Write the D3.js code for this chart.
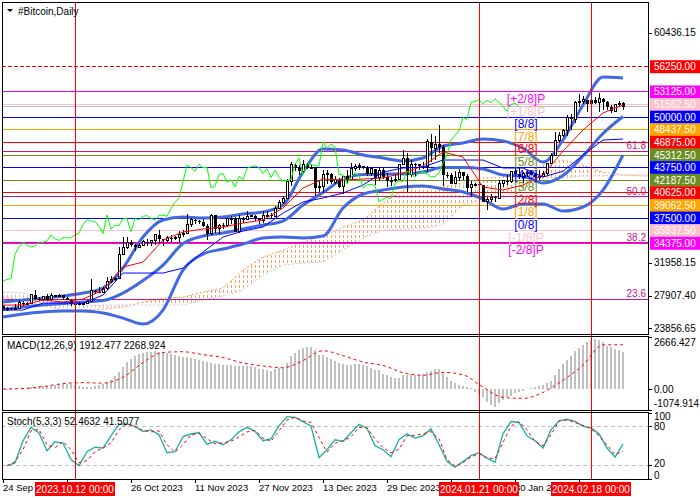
<!doctype html>
<html lang="en">
<head>
<meta charset="utf-8">
<title>#Bitcoin, Daily</title>
<script src="https://cdn.jsdelivr.net/npm/d3@7"></script>
<style>
  body { margin: 0; background: #fff; }
  svg { display: block; font-family: "Liberation Sans", Arial, sans-serif; }
</style>
</head>
<body>
<div id="chart"></div>
<script>
// ---- data (daily bars from 24 Sep 2023) ----
const firstDay = new Date(2023, 8, 24);

const open = [26580,26260,26300,26210,26350,27020,26910,
  26970,27980,27500,27430,27790,27410,27930,27950,27970,27600,27390,26870,26750,26860,26860,27150,28500,28400,28330,28720,29680,29920,30000,33000,33900,34500,34150,33900,34090,34540,34500,
  34660,35420,34940,34730,35080,35050,35050,35420,35620,36700,37310,37130,37070,36480,35550,37870,36150,36600,36590,37390,37480,35810,37420,37290,37720,37800,37480,37250,37830,37860,
  37720,38690,39470,39980,41980,44080,43750,43290,44170,43730,43790,41240,41450,42890,43020,41930,42240,41360,42660,42260,43650,43860,43990,43740,43020,43610,42520,43440,42580,42070,42140,
  42280,44180,44940,42850,44180,44160,43970,43930,46970,46120,46650,46340,42890,42850,41730,42510,43150,42740,41260,41620,41670,41550,39510,39850,40080,39930,41820,42120,42030,43300,42950,
  42580,43080,43190,42990,42580,42660,43080,44320,45300,47150,47770,48290,49960,49730,51830,51940,52160,51660,52120,51780,52280,51850,51320,50730,51570,51730];
const high = [26720,26430,26390,26820,27300,27230,27090,
  28050,28580,27670,27820,28120,28250,28030,28100,27990,27740,27480,26940,27100,26980,27290,30000,28610,28950,28920,30200,30290,30210,33900,35180,35100,34800,34240,34450,34730,34850,34720,
  35560,35980,34950,35250,35380,35280,35900,35980,37970,37520,37400,37220,37400,36750,37950,37920,36800,36830,37500,37750,37650,37850,37620,38400,37890,37830,37560,38370,38400,38150,
  38950,39680,40190,42400,44490,44280,44040,44700,44380,44040,43800,42100,43430,43400,43080,42700,42430,42750,43480,44280,44230,44380,44000,43950,43800,43620,43680,43800,43120,42600,42900,
  44180,45880,45500,44730,44350,44200,44480,47250,47900,47650,49000,46500,43250,43080,43340,43550,43200,42930,42150,41850,41870,41650,40130,40500,40280,42200,42200,42800,43310,43880,43740,
  43260,43420,43380,43120,43500,43350,44370,45580,48190,48170,48550,50220,50350,52020,52820,52570,52160,52350,52490,52980,52370,52030,51540,51680,51950,51850];
const low = [26210,25990,26090,26120,26340,26670,26890,
  26940,27330,27180,27220,27390,27180,27850,27710,27290,27300,26560,26560,26690,26810,26840,27120,28100,28180,28170,28610,29480,29680,29920,32870,33700,33880,33400,33880,34050,34100,34080,
  34120,34340,34100,34590,34560,34760,34520,35120,35560,36350,36760,36730,36360,34800,35360,35600,35500,36200,36400,36800,35730,35650,36930,37250,37600,37150,36750,36890,37600,37520,
  37620,38650,39280,39980,41420,43370,42820,43090,43600,43600,40250,40680,40620,41770,41700,41700,41250,40530,41820,42200,43300,43400,43600,42770,42730,41640,42120,42300,41300,41520,41960,
  42200,44150,40750,42630,42600,43400,43600,43200,44400,44700,45600,41500,42450,41720,41720,42050,42200,40680,40280,41450,41500,39440,38550,39480,39530,39830,41400,41630,41800,42700,42300,
  41880,42580,42900,42250,42270,42600,42800,44320,45250,46900,47560,47700,48370,49270,51320,51600,50650,51190,51570,50620,50830,50930,50540,50590,51280,50900];
const close = [26260,26300,26210,26350,27020,26910,26970,
  27980,27500,27430,27790,27410,27930,27950,27970,27600,27390,26870,26750,26860,26860,27150,28500,28400,28330,28720,29680,29920,30000,33000,33900,34500,34150,33900,34090,34540,34500,34660,
  35420,34940,34730,35080,35050,35050,35420,35620,36700,37310,37130,37070,36480,35550,37870,36150,36600,36590,37390,37480,35810,37420,37290,37720,37800,37480,37250,37830,37860,37720,
  38690,39470,39980,41980,44080,43750,43290,44170,43730,43790,41240,41450,42890,43020,41930,42240,41360,42660,42260,43650,43860,43990,43740,43020,43610,42520,43440,42580,42070,42140,42280,
  44180,44940,42850,44180,44160,43970,43930,46970,46120,46650,46340,42890,42850,41730,42510,43150,42740,41260,41620,41670,41550,39510,39850,40080,39930,41820,42120,42030,43300,42950,42580,
  43080,43190,42990,42580,42660,43080,44320,45300,47150,47770,48290,49960,49730,51830,51940,52160,51660,52120,51780,52280,51850,51320,50730,51570,51730,51300];

// indicator lines, one value every 5 bars (bar 0, 5, ... 155)
const bbUpper = [27100,27340,27590,27840,28210,28830,31310,35150,37260,37630,37500,37630,38000,38250,39110,43200,46050,45930,45310,44940,44570,44940,46430,46800,47290,47040,46180,44440,47170,51500,54970,54850];
const bbMiddle = [26170,26480,26720,26910,27100,27280,28210,29760,31680,34340,35270,35650,36140,36640,37130,39110,40660,42340,42890,42960,42960,43200,43760,43760,43580,42830,42710,41840,42770,45190,47970,50080];
const bbLower = [25240,25610,25860,25980,25980,25730,25110,24370,26110,31060,33040,33660,34280,35030,35150,35030,35270,38740,40480,40970,41350,41470,41100,40730,39860,38620,39240,39240,38370,38870,40970,45310];
const tenkan = [26720,26720,27340,27100,27470,28580,31430,32050,34780,35770,36140,36390,36880,37260,38740,41220,42340,42210,42340,42460,43080,43950,45680,45060,41350,40970,41590,42830,45810,48410,50510,51500];
const kijun = [26110,26110,26970,26970,26970,27960,30690,30690,30690,31310,33290,35150,35890,36390,38120,39490,39980,40600,41590,43200,43700,43820,44690,44690,44690,43700,43700,42580,43300,45310,47170,47290];
const macdSignal = [0,25,126,277,327,302,604,1358,1876,1911,1760,1610,1333,1182,1091,1459,1962,1710,1383,1207,840,704,855,729,100,-428,-478,-176,453,1230,2264,2268.924];

// cloud spans, every 5 bars from bar 0 to bar 165 (shifted 26 bars ahead)
const spanA = [27720,27340,26720,26110,26110,26230,26480,27100,27590,27720,28340,28830,31060,32670,33540,34530,35270,36390,37260,39360,40970,41470,41350,41840,42460,42580,42460,44070,44690,44070,43200,42830,42710,42710];
const spanB = [28340,28210,27340,26970,26720,26720,26720,26720,26720,26720,27340,27840,28580,30440,31680,31930,32050,33540,35030,36020,36140,36270,36640,39110,39730,39980,40970,42460,42460,42710,42710,42830,42960,42960];

// MACD main, one per bar
const macdMain = [-50,-40,-30,-20,-10,10,30,80,120,150,170,180,200,220,240,250,260,250,220,150,100,80,120,160,200,260,350,480,650,880,
  1150,1400,1550,1700,1800,1870,1910,1920,1930,1920,1900,1860,1800,1720,1680,1650,1620,1580,1530,1480,1430,1380,1330,1290,1270,1250,1240,1220,1200,1180,
  1170,1170,1170,1110,1010,1010,960,920,1010,1090,1100,1345,1675,1845,1975,2097,2163,2163,1975,1760,1725,1645,1545,1425,1345,1258,1207,1207,1258,1292,
  1222,1172,1090,970,970,790,704,619,588,588,740,740,755,720,720,755,870,920,1006,1040,890,620,420,285,200,135,85,35,-170,-300,
  -420,-640,-800,-900,-700,-555,-420,-335,-215,-135,-85,-20,35,85,135,200,285,420,705,1006,1258,1509,1675,1925,2097,2264,2420,2520,2580,2520,
  2400,2214,2148,2046,2012,1912.477];

// Stochastic %K and %D, every 2 bars (bar 1, 3, ... 155)
const stochMain = [19.7,23.8,57.6,78.0,69.7,42.4,56.1,54.1,28.8,19.7,40.9,47.7,46.5,65.2,82.6,83.3,79.5,71.7,74.2,66.7,
  39.4,40.9,64.1,67.9,70.2,52.0,56.7,51.5,59.1,71.2,78.0,72.0,57.6,60.6,80.3,94.4,93.2,86.8,80.3,31.8,
  43.9,59.1,56.5,69.7,82.6,76.8,50.0,43.9,33.3,59.1,68.2,61.7,65.2,75.8,51.5,26.2,17.4,25.8,34.8,39.4,
  31.1,24.7,68.2,87.1,85.6,65.2,57.6,46.5,74.2,87.9,90.5,87.1,79.8,77.3,68.2,46.5,32.6,52.4632];
const stochSignal = [19.2,25.8,43.9,72.7,75.0,51.5,47.0,56.5,43.9,24.2,27.3,40.9,46.5,54.5,74.2,83.3,78.8,73.5,71.2,72.7,
  51.5,40.2,51.5,66.7,68.9,60.6,53.0,54.5,56.8,63.6,71.2,73.5,61.7,56.8,72.7,89.4,93.5,87.9,85.6,62.9,
  40.2,53.8,57.6,63.6,78.0,77.3,60.6,47.0,39.4,44.7,65.2,65.9,68.2,71.7,60.6,28.8,18.9,24.2,32.6,37.9,
  31.4,30.3,55.0,80.0,86.8,74.2,56.5,50.0,66.7,87.9,89.4,85.6,81.1,75.8,65.2,51.5,36.4,41.5077];

// horizontal levels
const mmLevels = [53125, 51562.5, 50000, 48437.5, 46875, 45312.5, 43750, 42187.5, 40625, 39062.5, 37500, 35937.5, 34375];
const mmNames = ["[+2/8]P","[+1/8]P","[8/8]","[7/8]","[6/8]","[5/8]","[4/8]","[3/8]","[2/8]","[1/8]","[0/8]","[-1/8]P","[-2/8]P"];
const fibNames = ["23.6", "38.2", "50.0", "61.8"];
const fibPrices = [27470, 34460, 40115, 45770];
const targetLevel = 56250;
const priceTicks = [60436.15, 31958.15, 27907.40, 23856.65];
const markedDays = ["2023.10.12", "2024.01.21", "2024.02.18"];
const dateTicks = [0, 32, 48, 64, 80, 96, 128];   // bars with a date label that is not fully covered

// ---- styles ----
const mmColors = ["#ff00ff","#ffc0cb","#0000ff","#ffa500","#ff0000","#6b8e23","#0000ff","#6b8e23","#ff0000","#ffa500","#0000ff","#ffc0cb","#ff00ff"];

// ---- layout ----
const W = 700, H = 500;
const L = 2, R = 649;
const mainTop = 2, mainBot = 334, macdTop = 336, macdBot = 410, stoTop = 412, stoBot = 479;

const svg = d3.select("#chart").append("svg").attr("width", W).attr("height", H);
const defs = svg.append("defs");

function clip(id, x0, y0, x1, y1) {
  defs.append("clipPath").attr("id", id).append("rect")
    .attr("x", x0).attr("y", y0).attr("width", x1 - x0).attr("height", y1 - y0);
}
clip("cMain", L, mainTop, R, mainBot);
clip("cMacd", L, macdTop, R, macdBot);
clip("cSto", L, stoTop, R, stoBot);

const x = d3.scaleLinear().domain([0, 161.5]).range([3, 649]);
const y = d3.scaleLinear().domain([34375, 56250]).range([243.3, 66.7]);
const yMacd = d3.scaleLinear().domain([-1074.914, 2666.427]).range([410, 337]);
const ySto = d3.scaleLinear().domain([0, 100]).range([478.5, 413]);

const bars = d3.range(close.length);
const s5 = d3.range(0, 156, 5);
const s5cloud = d3.range(0, 166, 5);
const s2 = d3.range(1, 156, 2);
const dayIndex = s => d3.timeDay.count(firstDay, d3.timeParse("%Y.%m.%d")(s));

const main = svg.append("g").attr("clip-path", "url(#cMain)");

// ---- Ichimoku cloud (dotted hatching) ----
function hatch(id, color) {
  const p = defs.append("pattern").attr("id", id).attr("patternUnits", "userSpaceOnUse")
    .attr("x", 3).attr("y", 0).attr("width", 4).attr("height", 5);
  p.append("rect").attr("x", 0).attr("y", 0).attr("width", 1).attr("height", 3)
    .attr("fill", color).attr("shape-rendering", "crispEdges");
}
hatch("hSandy", "#f4a460");
hatch("hThistle", "#d8bfd8");

const cloudPts = s5cloud.map((b, k) => ({ b, a: spanA[k], s: spanB[k] }));
defs.append("clipPath").attr("id", "cAboveB").append("path")
  .attr("d", d3.area().x(d => x(d.b)).y0(0).y1(d => y(d.s))(cloudPts));
defs.append("clipPath").attr("id", "cBelowB").append("path")
  .attr("d", d3.area().x(d => x(d.b)).y0(H).y1(d => y(d.s))(cloudPts));
const cloudArea = d3.area().x(d => x(d.b)).y0(d => y(d.s)).y1(d => y(d.a));
main.append("g").attr("clip-path", "url(#cAboveB)").append("path")
  .attr("d", cloudArea(cloudPts)).attr("fill", "url(#hSandy)");
main.append("g").attr("clip-path", "url(#cBelowB)").append("path")
  .attr("d", cloudArea(cloudPts)).attr("fill", "url(#hThistle)");
main.append("path").attr("d", d3.line().x(d => x(d.b)).y(d => y(d.a))(cloudPts))
  .attr("fill", "none").attr("stroke", "#f4a460").attr("stroke-dasharray", "2,2");
main.append("path").attr("d", d3.line().x(d => x(d.b)).y(d => y(d.s))(cloudPts))
  .attr("fill", "none").attr("stroke", "#d8bfd8").attr("stroke-dasharray", "2,2");

// ---- horizontal levels ----
const hl = main.append("g").attr("shape-rendering", "crispEdges");
hl.selectAll("line.mm").data(mmLevels).join("line")
  .attr("x1", L).attr("x2", R).attr("y1", d => y(d)).attr("y2", d => y(d))
  .attr("stroke", (d, i) => mmColors[i]).attr("stroke-width", (d, i) => i === 12 ? 2 : 1);
hl.selectAll("line.fib").data(fibPrices).join("line")
  .attr("x1", L).attr("x2", R).attr("y1", d => y(d)).attr("y2", d => y(d))
  .attr("stroke", "#c71585");
hl.append("line").attr("x1", L).attr("x2", R).attr("y1", y(targetLevel)).attr("y2", y(targetLevel))
  .attr("stroke", "#ff0000").attr("stroke-dasharray", "4,2");
hl.append("line").attr("x1", L).attr("x2", R)
  .attr("y1", y(close[close.length - 1])).attr("y2", y(close[close.length - 1]))
  .attr("stroke", "#c0c0c0");

// ---- Bollinger bands ----
const bbLine = arr => d3.line().curve(d3.curveMonotoneX).x(b => x(b)).y((b, k) => y(arr[k]))(s5);
[bbUpper, bbMiddle, bbLower].forEach(arr => {
  main.append("path").attr("d", bbLine(arr)).attr("fill", "none")
    .attr("stroke", "#4169e1").attr("stroke-width", 3);
});

// ---- candles ----
const cg = main.append("g").attr("shape-rendering", "crispEdges");
cg.selectAll("line").data(bars).join("line")
  .attr("x1", i => x(i) + 0.5).attr("x2", i => x(i) + 0.5)
  .attr("y1", i => y(high[i])).attr("y2", i => y(low[i]))
  .attr("stroke", "#000");
cg.selectAll("rect").data(bars).join("rect")
  .each(function(i) {
    const top = y(Math.max(open[i], close[i]));
    const bot = y(Math.min(open[i], close[i]));
    const r = d3.select(this);
    if (close[i] >= open[i]) {
      r.attr("x", x(i) - 0.5).attr("y", top).attr("width", 2).attr("height", Math.max(bot - top, 1))
        .attr("fill", "#fff").attr("stroke", "#000");
    } else {
      r.attr("x", x(i) - 1).attr("y", top).attr("width", 3).attr("height", Math.max(bot - top, 1))
        .attr("fill", "#000");
    }
  });

// ---- Ichimoku lines ----
const thin = (arr, color) => main.append("path")
  .attr("d", d3.line().x(b => x(b)).y((b, k) => y(arr[k]))(s5))
  .attr("fill", "none").attr("stroke", color);
thin(tenkan, "#ff0000");
thin(kijun, "#0000ff");
main.append("path")
  .attr("d", d3.line().x((c, k) => x(k)).y(c => y(c))(close.slice(26)))
  .attr("fill", "none").attr("stroke", "#00ff00");

// ---- level labels ----
main.selectAll("text.mm").data(mmLevels).join("text")
  .attr("x", 526).attr("y", d => y(d) + 11).attr("text-anchor", "middle")
  .attr("font-size", 12).attr("fill", (d, i) => mmColors[i]).text((d, i) => mmNames[i]);
main.selectAll("text.fib").data(fibPrices).join("text")
  .attr("x", 646).attr("y", d => y(d) - 2).attr("text-anchor", "end")
  .attr("font-size", 10).attr("fill", "#c71585").text((d, i) => fibNames[i]);

// ---- MACD ----
const mg = svg.append("g").attr("clip-path", "url(#cMacd)");
mg.append("g").attr("shape-rendering", "crispEdges").selectAll("line").data(bars).join("line")
  .attr("x1", i => x(i)).attr("x2", i => x(i))
  .attr("y1", yMacd(0)).attr("y2", i => yMacd(macdMain[i]))
  .attr("stroke", "#c0c0c0").attr("stroke-width", 2);
mg.append("path").attr("d", d3.line().curve(d3.curveMonotoneX).x(b => x(b)).y((b, k) => yMacd(macdSignal[k]))(s5))
  .attr("fill", "none").attr("stroke", "#ff0000").attr("stroke-dasharray", "3,3");

// ---- Stochastic ----
const sg = svg.append("g").attr("clip-path", "url(#cSto)");
[20, 80].forEach(v => sg.append("line").attr("x1", L).attr("x2", R)
  .attr("y1", Math.round(ySto(v)) + 0.5).attr("y2", Math.round(ySto(v)) + 0.5)
  .attr("stroke", "#c0c0c0").attr("stroke-dasharray", "4,3"));
sg.append("path").attr("d", d3.line().x(b => x(b)).y((b, k) => ySto(stochMain[k]))(s2))
  .attr("fill", "none").attr("stroke", "#20b2aa").attr("stroke-width", 1.4);
sg.append("path").attr("d", d3.line().x(b => x(b)).y((b, k) => ySto(stochSignal[k]))(s2))
  .attr("fill", "none").attr("stroke", "#ff0000").attr("stroke-dasharray", "3,3");

// ---- vertical marker lines ----
svg.append("g").attr("shape-rendering", "crispEdges").selectAll("line").data(markedDays).join("line")
  .attr("x1", d => x(dayIndex(d)) + 0.5).attr("x2", d => x(dayIndex(d)) + 0.5)
  .attr("y1", mainTop).attr("y2", stoBot).attr("stroke", "#ff0000");

// ---- panel frames ----
const frames = svg.append("g").attr("fill", "none").attr("stroke", "#000").attr("shape-rendering", "crispEdges");
[[mainTop, mainBot], [macdTop, macdBot], [stoTop, stoBot]].forEach(([a, b]) =>
  frames.append("rect").attr("x", L + 0.5).attr("y", a + 0.5).attr("width", R - L - 1).attr("height", b - a));

// ---- right price axis ----
const ax = svg.append("g").attr("font-size", 10);
ax.selectAll("line.t").data(priceTicks).join("line")
  .attr("x1", R).attr("x2", R + 3).attr("y1", d => Math.round(y(d)) + 0.5).attr("y2", d => Math.round(y(d)) + 0.5)
  .attr("stroke", "#000");
ax.selectAll("text.t").data(priceTicks).join("text")
  .attr("x", 654).attr("y", d => y(d) + 3.5).text(d => d.toFixed(2));

const lastY = y(close[close.length - 1]);
ax.append("rect").attr("x", 650).attr("y", lastY - 6.5).attr("width", 50).attr("height", 13).attr("fill", "#000");

const tagLevels = [targetLevel].concat(mmLevels);
const tagColors = ["#ff0000"].concat(mmColors);
ax.selectAll("rect.tag").data(tagLevels).join("rect")
  .attr("x", 650).attr("y", d => y(d) - 6.5).attr("width", 50).attr("height", 13)
  .attr("fill", (d, i) => tagColors[i]);
ax.selectAll("text.tag").data(tagLevels).join("text")
  .attr("x", 654).attr("y", d => y(d) + 3.5).attr("fill", "#fff").text(d => d.toFixed(2));

// MACD & Stoch axis labels
const subLabels = [
  [yMacd(2666.427), "2666.427", macdTop + 10],
  [yMacd(0), "0.00", null],
  [yMacd(-1074.914), "-1074.914", macdBot - 3],
  [ySto(100), "100", stoTop + 8],
  [ySto(80), "80", null],
  [ySto(20), "20", ySto(20) + 2],
  [ySto(0), "0", stoBot]
];
subLabels.forEach(([py, t, ty]) => {
  ax.append("line").attr("x1", R).attr("x2", R + 3).attr("y1", Math.round(py) + 0.5).attr("y2", Math.round(py) + 0.5).attr("stroke", "#000");
  ax.append("text").attr("x", 654).attr("y", ty === null ? py + 3.5 : ty).text(t);
});

// ---- time axis ----
const fmt = d3.timeFormat("%-d %b %Y");
const tx = svg.append("g").attr("font-size", 9.5);
tx.selectAll("line").data(d3.range(0, 156, 16)).join("line")
  .attr("x1", i => x(i) + 0.5).attr("x2", i => x(i) + 0.5).attr("y1", stoBot).attr("y2", stoBot + 4)
  .attr("stroke", "#000");
clip("cDateA", 0, 480, 36, 500);
clip("cDateB", 519, 480, 551, 500);
tx.selectAll("text").data(dateTicks).join("text")
  .attr("x", i => x(i)).attr("y", 491)
  .attr("clip-path", i => i === 0 ? "url(#cDateA)" : i === 128 ? "url(#cDateB)" : null)
  .text(i => fmt(d3.timeDay.offset(firstDay, i)));
const marks = tx.selectAll("g.mark").data(markedDays).join("g");
marks.append("rect").attr("x", d => x(dayIndex(d)) - 40).attr("y", 482).attr("width", 80).attr("height", 14).attr("fill", "#ff0000");
marks.append("text").attr("x", d => x(dayIndex(d))).attr("y", 492.5).attr("text-anchor", "middle")
  .attr("fill", "#fff").attr("font-size", 10).text(d => d + " 00:00");

// ---- panel titles ----
svg.append("path").attr("d", "M7,9 L13,9 L10,12 Z").attr("fill", "#000");
svg.append("text").attr("x", 18).attr("y", 14.5).attr("font-size", 10).text("#Bitcoin,Daily");
svg.append("text").attr("x", 7).attr("y", 348.5).attr("font-size", 10)
  .text("MACD(12,26,9) " + macdMain[macdMain.length - 1].toFixed(3) + " " + macdSignal[macdSignal.length - 1].toFixed(3));
svg.append("text").attr("x", 7).attr("y", 424.5).attr("font-size", 10)
  .text("Stoch(5,3,3) " + stochMain[stochMain.length - 1].toFixed(4) + " " + stochSignal[stochSignal.length - 1].toFixed(4));
</script>
</body>
</html>
